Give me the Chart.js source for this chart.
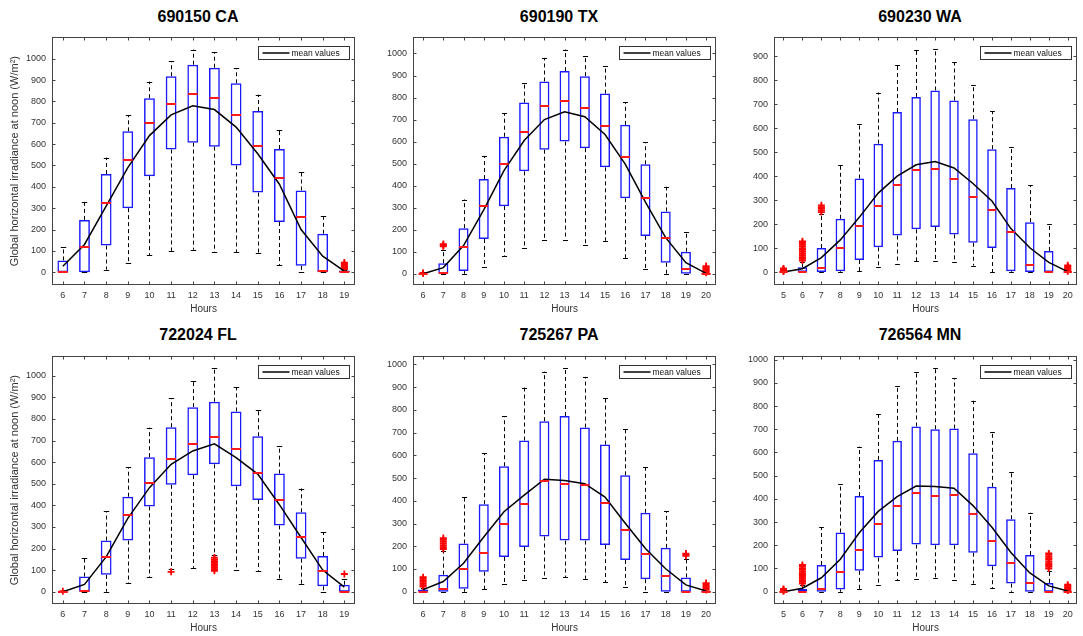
<!DOCTYPE html>
<html>
<head>
<meta charset="utf-8">
<script src="https://cdn.jsdelivr.net/npm/chart.js@4.4.0/dist/chart.umd.min.js"></script>
<style>
  body { margin: 0; background: #fff; width: 1083px; height: 636px; position: relative; overflow: hidden;
         font-family: "Liberation Sans", Arial, sans-serif; }
  canvas { position: absolute; }
  .title { position: absolute; width: 220px; text-align: center; font-weight: bold; font-size: 16px;
           line-height: 18px; color: #000; }
</style>
</head>
<body>
<script>
// ---- data ----
const hoursCA = [6, 7, 8, 9, 10, 11, 12, 13, 14, 15, 16, 17, 18, 19];
const q1CA   = [0, 0, 125, 300, 450, 575, 607, 588, 500, 373, 235, 30, 0, 0];
const q3CA   = [55, 245, 460, 660, 815, 918, 972, 958, 885, 755, 577, 383, 180, 8];
const medCA  = [0, 118, 323, 525, 700, 787, 835, 817, 737, 592, 440, 260, 5, 0];
const loCA   = [0, 0, 12, 43, 80, 100, 105, 95, 95, 92, 33, 0, 0, 0];
const hiCA   = [118, 330, 537, 735, 893, 988, 1043, 1030, 955, 832, 665, 470, 262, 8];
const meanCA = [28, 130, 310, 490, 640, 737, 780, 762, 680, 555, 412, 200, 75, 5];
const outCA  = { 19: [15, 20, 25, 30, 35, 40, 45] };

const hoursTX = [6, 7, 8, 9, 10, 11, 12, 13, 14, 15, 16, 17, 18, 19, 20];
const q1TX   = [0, 0, 12, 158, 307, 465, 563, 600, 570, 483, 343, 172, 50, 0, 0];
const q3TX   = [0, 48, 207, 430, 622, 777, 873, 920, 897, 818, 676, 497, 283, 100, 2];
const medTX  = [0, 2, 120, 307, 497, 643, 763, 785, 752, 670, 530, 343, 163, 22, 0];
const loTX   = [0, 0, 0, 30, 82, 118, 153, 155, 130, 150, 72, 22, 0, 0, 0];
const hiTX   = [0, 110, 337, 535, 730, 868, 980, 1018, 990, 945, 780, 598, 395, 190, 2];
const meanTX = [0, 28, 128, 290, 468, 605, 700, 735, 713, 632, 498, 325, 164, 50, 2];
const outTX  = { 6: [2, 4], 7: [125, 130, 135], 20: [5, 10, 15, 20, 25, 30, 35] };

const hoursWA = [5, 6, 7, 8, 9, 10, 11, 12, 13, 14, 15, 16, 17, 18, 19, 20];
const q1WA   = [0, 0, 0, 3, 50, 103, 152, 178, 188, 157, 122, 100, 3, 0, 0, 0];
const q3WA   = [0, 20, 100, 222, 390, 535, 667, 730, 757, 715, 637, 512, 350, 208, 88, 0];
const medWA  = [0, 0, 18, 100, 190, 275, 362, 427, 430, 388, 313, 258, 168, 30, 0, 0];
const loWA   = [0, 0, 0, 0, 3, 20, 35, 45, 45, 42, 27, 0, 0, 0, 0, 0];
const hiWA   = [0, 42, 240, 447, 615, 748, 865, 925, 928, 875, 780, 670, 520, 362, 200, 0];
const meanWA = [0, 14, 60, 134, 228, 329, 400, 447, 461, 434, 369, 296, 181, 101, 40, 2];
const outWA  = { 5: [2, 5, 8, 12, 15], 6: [48, 55, 62, 70, 78, 85, 93, 100, 108, 115, 122, 128],
                 7: [250, 257, 264, 271, 278], 20: [3, 8, 13, 18, 23, 28] };

const hoursFL = [6, 7, 8, 9, 10, 11, 12, 13, 14, 15, 16, 17, 18, 19];
const q1FL   = [0, 0, 78, 237, 395, 495, 540, 590, 488, 425, 307, 153, 25, 0];
const q3FL   = [0, 70, 237, 440, 623, 762, 855, 880, 835, 720, 547, 368, 165, 32];
const medFL  = [0, 3, 163, 355, 505, 613, 685, 718, 660, 552, 425, 253, 95, 0];
const loFL   = [0, 0, 0, 40, 68, 105, 110, 170, 100, 97, 57, 35, 0, 0];
const hiFL   = [0, 157, 373, 577, 760, 895, 975, 1035, 948, 842, 673, 478, 275, 60];
const meanFL = [0, 34, 161, 340, 482, 590, 652, 685, 621, 545, 403, 251, 100, 21];
const outFL  = { 6: [2], 11: [92], 13: [97, 105, 112, 120, 128, 135, 142, 150, 158], 19: [82] };

const hoursPA = [6, 7, 8, 9, 10, 11, 12, 13, 14, 15, 16, 17, 18, 19, 20];
const q1PA   = [0, 0, 13, 88, 153, 197, 243, 225, 225, 205, 140, 55, 0, 0, 0];
const q3PA   = [10, 75, 212, 385, 552, 665, 750, 773, 722, 647, 512, 347, 193, 63, 3];
const medPA  = [0, 13, 100, 172, 297, 385, 487, 472, 470, 392, 272, 165, 70, 0, 0];
const loPA   = [0, 0, 0, 10, 35, 52, 60, 65, 57, 42, 22, 0, 0, 0, 0];
const hiPA   = [15, 178, 418, 610, 773, 898, 968, 985, 945, 850, 715, 548, 355, 145, 3];
const meanPA = [9, 45, 125, 241, 352, 425, 495, 489, 475, 416, 301, 190, 101, 30, 3];
const outPA  = { 6: [22, 29, 36, 43, 50, 57, 64], 7: [188, 196, 204, 212, 220, 228, 236],
                 19: [158, 163, 168], 20: [8, 14, 20, 26, 32, 38] };

const hoursMN = [5, 6, 7, 8, 9, 10, 11, 12, 13, 14, 15, 16, 17, 18, 19, 20];
const q1MN   = [0, 0, 0, 10, 90, 147, 175, 203, 200, 200, 168, 110, 35, 0, 0, 0];
const q3MN   = [0, 12, 115, 255, 412, 568, 650, 712, 700, 703, 597, 452, 312, 158, 38, 2];
const medMN  = [0, 0, 13, 83, 180, 293, 370, 425, 412, 417, 333, 220, 125, 38, 0, 0];
const loMN   = [0, 0, 0, 0, 10, 30, 50, 55, 58, 50, 35, 15, 0, 0, 0, 0];
const hiMN   = [0, 30, 278, 463, 625, 765, 885, 948, 962, 920, 823, 690, 515, 340, 90, 2];
const meanMN = [0, 15, 60, 140, 254, 346, 410, 455, 453, 446, 371, 278, 169, 81, 25, 3];
const outMN  = { 5: [2, 5, 8, 12], 6: [35, 42, 50, 58, 65, 72, 80, 88, 95, 102, 110, 115],
                 19: [100, 108, 115, 122, 130, 138, 145, 152, 160, 165], 20: [5, 10, 15, 20, 25, 30] };

const ticks1000 = [0, 100, 200, 300, 400, 500, 600, 700, 800, 900, 1000];
const ticks900  = [0, 100, 200, 300, 400, 500, 600, 700, 800, 900];

const yLabel = 'Global horizontal irradiance at noon (W/m²)';
const legendText = 'mean values';

// ---- layout ----
const YW = 50, XH = 32, PADT = 3, PADR = 1;
const FONT = '"Liberation Sans", Arial, sans-serif';

const panels = [
  { name: '690150 CA', hours: hoursCA, q1: q1CA, q3: q3CA, med: medCA, lo: loCA, hi: hiCA, mean: meanCA, out: outCA,
    ticks: ticks1000, ymin: -60, ymax: 1100, left: 52, top: 29, right: 360, bottom: 285, ylab: true },
  { name: '690190 TX', hours: hoursTX, q1: q1TX, q3: q3TX, med: medTX, lo: loTX, hi: hiTX, mean: meanTX, out: outTX,
    ticks: ticks1000, ymin: -51, ymax: 1073, left: 413, top: 29, right: 721, bottom: 285 },
  { name: '690230 WA', hours: hoursWA, q1: q1WA, q3: q3WA, med: medWA, lo: loWA, hi: hiWA, mean: meanWA, out: outWA,
    ticks: ticks900, ymin: -54, ymax: 978, left: 774, top: 29, right: 1082, bottom: 285 },
  { name: '722024 FL', hours: hoursFL, q1: q1FL, q3: q3FL, med: medFL, lo: loFL, hi: hiFL, mean: meanFL, out: outFL,
    ticks: ticks1000, ymin: -57, ymax: 1090, left: 52, top: 348, right: 360, bottom: 604, ylab: true },
  { name: '725267 PA', hours: hoursPA, q1: q1PA, q3: q3PA, med: medPA, lo: loPA, hi: hiPA, mean: meanPA, out: outPA,
    ticks: ticks1000, ymin: -54, ymax: 1035, left: 413, top: 348, right: 721, bottom: 604 },
  { name: '726564 MN', hours: hoursMN, q1: q1MN, q3: q3MN, med: medMN, lo: loMN, hi: hiMN, mean: meanMN, out: outMN,
    ticks: ticks1000, ymin: -53, ymax: 1014, left: 774, top: 348, right: 1082, bottom: 604 }
];

// whiskers, medians, axes box and legend drawn with the chart's scales
const boxPlugin = {
  id: 'boxes',
  beforeDatasetsDraw(chart) {
    const p = chart.canvas._panel;
    const xs = chart.scales.x, ys = chart.scales.y, ctx = chart.ctx;
    const unit = xs.getPixelForValue(1) - xs.getPixelForValue(0);
    const cap = unit * 0.125;
    ctx.save();
    ctx.strokeStyle = '#000';
    ctx.lineWidth = 1;
    p.hours.forEach((h, i) => {
      const x = Math.round(xs.getPixelForValue(i)) + 0.5;
      const yq1 = ys.getPixelForValue(p.q1[i]), yq3 = ys.getPixelForValue(p.q3[i]);
      const ylo = ys.getPixelForValue(p.lo[i]), yhi = ys.getPixelForValue(p.hi[i]);
      ctx.setLineDash([4, 3]);
      ctx.beginPath();
      if (p.hi[i] > p.q3[i]) { ctx.moveTo(x, yq3); ctx.lineTo(x, yhi); }
      if (p.lo[i] < p.q1[i]) { ctx.moveTo(x, yq1); ctx.lineTo(x, ylo); }
      ctx.stroke();
      ctx.setLineDash([]);
      ctx.beginPath();
      const a = Math.round(yhi) + 0.5, b = Math.round(ylo) + 0.5;
      ctx.moveTo(x - cap, a); ctx.lineTo(x + cap, a);
      ctx.moveTo(x - cap, b); ctx.lineTo(x + cap, b);
      ctx.stroke();
    });
    ctx.restore();
  },
  afterDatasetsDraw(chart) {
    const p = chart.canvas._panel;
    const xs = chart.scales.x, ys = chart.scales.y, ctx = chart.ctx;
    const unit = xs.getPixelForValue(1) - xs.getPixelForValue(0);
    const half = unit * 0.25 - 0.5;
    ctx.save();
    ctx.strokeStyle = '#ff1a1a';
    ctx.lineWidth = 2;
    ctx.beginPath();
    p.hours.forEach((h, i) => {
      const x = xs.getPixelForValue(i);
      const y = Math.round(ys.getPixelForValue(p.med[i]));
      ctx.moveTo(x - half, y); ctx.lineTo(x + half, y);
    });
    ctx.stroke();
    ctx.restore();
  },
  afterDraw(chart) {
    const p = chart.canvas._panel;
    const {left, top, right, bottom} = chart.chartArea;
    const xs = chart.scales.x, ys = chart.scales.y, ctx = chart.ctx;
    ctx.save();
    ctx.strokeStyle = '#444';
    ctx.lineWidth = 1;
    const L = Math.round(left) + 0.5, R = Math.round(right) - 0.5;
    const T = Math.round(top) + 0.5, B = Math.round(bottom) - 0.5;
    ctx.strokeRect(L, T, R - L, B - T);
    ctx.beginPath();
    p.hours.forEach((h, i) => {
      const x = Math.round(xs.getPixelForValue(i)) + 0.5;
      ctx.moveTo(x, B); ctx.lineTo(x, B - 3);
      ctx.moveTo(x, T); ctx.lineTo(x, T + 3);
    });
    p.ticks.forEach(v => {
      const y = Math.round(ys.getPixelForValue(v)) + 0.5;
      ctx.moveTo(L, y); ctx.lineTo(L + 3, y);
      ctx.moveTo(R, y); ctx.lineTo(R - 3, y);
    });
    ctx.stroke();

    // legend box
    const w = 91, hgt = 13;
    const lx = Math.round(right - 6 - w) + 0.5, ly = Math.round(top + 9) + 0.5;
    ctx.fillStyle = '#fff';
    ctx.fillRect(lx, ly, w, hgt);
    ctx.strokeStyle = '#333';
    ctx.strokeRect(lx, ly, w, hgt);
    ctx.strokeStyle = '#000';
    ctx.lineWidth = 1.5;
    ctx.beginPath();
    ctx.moveTo(lx + 4, ly + hgt / 2); ctx.lineTo(lx + 31, ly + hgt / 2);
    ctx.stroke();
    ctx.fillStyle = '#111';
    ctx.font = '8.5px ' + FONT;
    ctx.textBaseline = 'middle';
    ctx.fillText(legendText, lx + 33, ly + hgt / 2 + 0.5);
    ctx.restore();
  }
};

function makePanel(p) {
  const title = document.createElement('div');
  title.className = 'title';
  title.textContent = p.name;
  title.style.left = ((p.left + p.right) / 2 - 8 - 110) + 'px';
  title.style.top = (p.top === 29 ? 8 : 326) + 'px';
  document.body.appendChild(title);

  const cv = document.createElement('canvas');
  const w = YW + (p.right - p.left) + PADR;
  const h = PADT + (p.bottom - p.top) + XH;
  cv.width = w; cv.height = h;
  cv.style.width = w + 'px'; cv.style.height = h + 'px';
  cv.style.left = (p.left - YW) + 'px';
  cv.style.top = (p.top - PADT) + 'px';
  document.body.appendChild(cv);
  cv._panel = p;

  const labels = p.hours.map(String);
  const outPts = [];
  Object.keys(p.out).forEach(k => p.out[k].forEach(v => outPts.push({ x: String(k), y: v })));

  new Chart(cv, {
    data: {
      labels: labels,
      datasets: [
        { type: 'line', label: legendText, data: p.mean, borderColor: '#000', borderWidth: 1.5,
          pointRadius: 0, tension: 0, fill: false, order: 0 },
        { type: 'line', label: 'outliers', data: outPts, showLine: false, pointStyle: 'cross',
          pointRadius: 3.5, borderColor: '#ff0000', backgroundColor: '#ff0000', pointBorderWidth: 1.8, order: 1 },
        { type: 'bar', label: 'box', data: p.q1.map((v, i) => [v, p.q3[i]]),
          backgroundColor: 'rgba(0,0,0,0)', borderColor: '#1a1aff', borderWidth: 1.5, borderSkipped: false,
          barPercentage: 0.5, categoryPercentage: 1, order: 2 }
      ]
    },
    options: {
      responsive: false,
      animation: false,
      events: [],
      layout: { padding: { top: PADT, right: PADR, left: 0, bottom: 0 } },
      plugins: { legend: { display: false }, tooltip: { enabled: false }, title: { display: false } },
      scales: {
        x: {
          type: 'category',
          offset: true,
          grid: { display: false, drawTicks: false },
          border: { display: false },
          ticks: { color: '#333', font: { size: 9, family: FONT }, padding: 5, maxRotation: 0, autoSkip: false },
          title: { display: true, text: 'Hours', color: '#333', font: { size: 10, family: FONT },
                   padding: { top: 0, bottom: 2 } },
          afterFit: s => { s.height = XH; }
        },
        y: {
          type: 'linear',
          min: p.ymin, max: p.ymax,
          grid: { display: false, drawTicks: false },
          border: { display: false },
          ticks: { color: '#333', font: { size: 9, family: FONT }, padding: 6, callback: v => String(v) },
          afterBuildTicks: s => { s.ticks = p.ticks.map(v => ({ value: v })); },
          title: { display: !!p.ylab, text: yLabel, color: '#333', font: { size: 11, family: FONT },
                   padding: { top: 6, bottom: 0 } },
          afterFit: s => { s.width = YW; }
        }
      }
    },
    plugins: [boxPlugin]
  });
}

panels.forEach(makePanel);
</script>
</body>
</html>
